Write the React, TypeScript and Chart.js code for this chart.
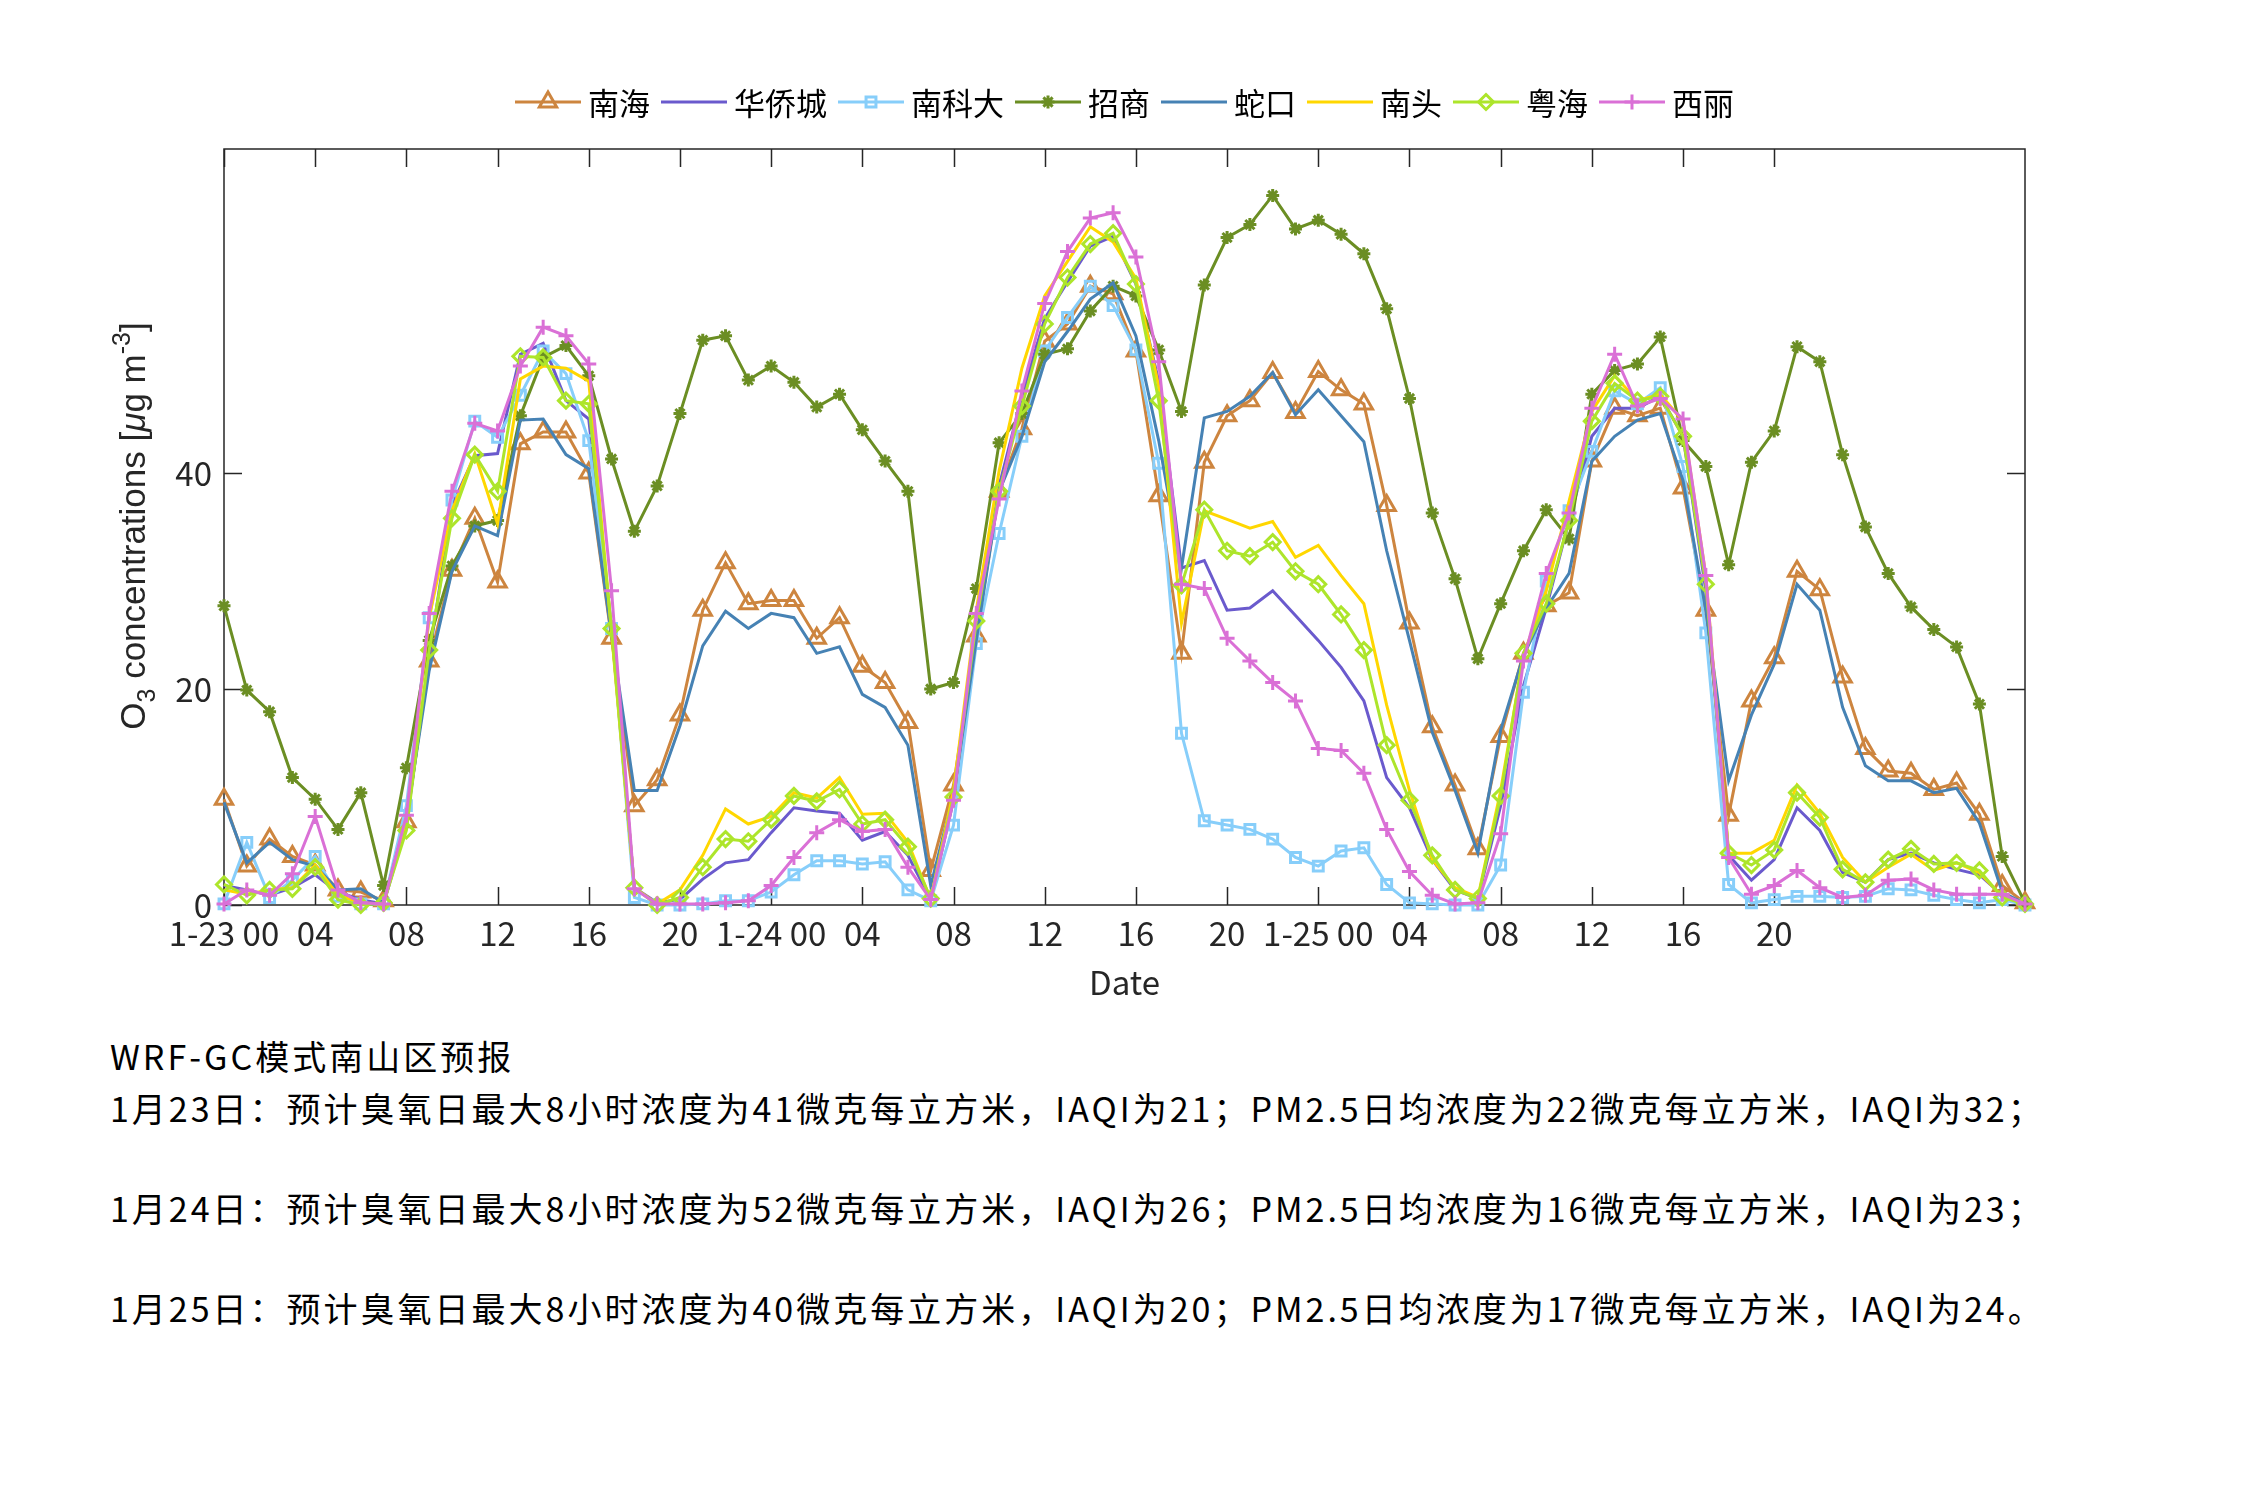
import React, { useEffect, useRef } from 'react';
import { Chart, registerables } from 'chart.js';

Chart.register(...registerables);

// ---------- data ----------
const HOURS: number[] = Array.from({ length: 80 }, (_, i) => i);

const TICK_HOURS = [0, 4, 8, 12, 16, 20, 24, 28, 32, 36, 40, 44, 48, 52, 56, 60, 64, 68];
const TICK_LABELS = ['1-23 00', '04', '08', '12', '16', '20', '1-24 00', '04', '08', '12', '16', '20', '1-25 00', '04', '08', '12', '16', '20'];
const Y_TICKS = [0, 20, 40];

const NANHAI = [
  9.8, 3.6, 6.1, 4.5, 3.7, 1.4, 1.2, 0.4, 7.7, 22.6, 31.0, 35.8, 29.9, 42.7, 43.8, 43.8, 40.0, 24.7, 9.2, 11.6,
  17.6, 27.3, 31.7, 27.9, 28.2, 28.2, 24.7, 26.6, 22.1, 20.6, 16.9, 3.2, 11.1, 24.9, 38.3, 44.1, 52.2, 53.8, 57.3,
  56.6, 51.3, 37.9, 23.3, 41.0, 45.3, 46.7, 49.3, 45.6, 49.4, 47.7, 46.4, 37.0, 26.1, 16.5, 11.1, 5.2, 15.6, 23.3,
  27.7, 28.9, 41.1, 46.0, 45.3, 46.0, 38.6, 27.3, 8.3, 18.9, 22.9, 30.9, 29.2, 21.1, 14.5, 12.4, 12.2, 10.7, 11.3, 8.4, 1.8, 0.2,
];
const HUAQIAOCHENG = [
  1.8, 1.4, 0.9, 1.6, 2.8, 1.2, 0.5, 0.1, 7.4, 23.0, 37.0, 41.6, 41.8, 51.0, 52.0, 46.7, 45.0, 25.6, 1.6, 0.2,
  0.5, 2.4, 3.9, 4.2, 6.7, 9.0, 8.7, 8.5, 6.0, 6.8, 4.6, 0.5, 9.7, 25.4, 38.8, 47.1, 54.3, 57.7, 61.0,
  61.9, 57.5, 48.5, 31.2, 31.9, 27.3, 27.5, 29.1, 26.8, 24.5, 22.0, 18.9, 11.8, 9.0, 4.2, 1.4, 0.6, 9.2, 20.3,
  27.5, 35.6, 43.4, 46.0, 46.0, 47.1, 43.4, 29.1, 4.6, 2.3, 4.2, 9.0, 6.9, 3.0, 2.1, 4.2, 4.8, 3.9, 3.3, 2.8, 0.9, 0.1,
];
const NANKEDA = [
  0.1, 5.8, 0.7, 2.3, 4.5, 0.8, 0.1, 0.1, 9.2, 26.6, 37.5, 44.8, 43.3, 47.2, 51.3, 49.2, 43.0, 25.6, 0.7, 0.0,
  0.0, 0.1, 0.4, 0.4, 1.2, 2.8, 4.1, 4.1, 3.8, 4.0, 1.4, 0.4, 7.4, 24.2, 34.4, 43.4, 51.3, 54.4, 57.3,
  55.5, 51.4, 40.9, 15.9, 7.8, 7.4, 7.0, 6.1, 4.4, 3.6, 5.0, 5.3, 1.9, 0.2, 0.1, 0.0, 0.0, 3.7, 19.7,
  30.0, 36.5, 42.0, 47.6, 46.4, 47.9, 40.6, 25.2, 1.9, 0.2, 0.5, 0.8, 0.8, 0.7, 0.8, 1.5, 1.4, 0.9, 0.5, 0.2, 0.5, 0.0,
];
const ZHAOSHANG = [
  27.7, 19.9, 17.9, 11.8, 9.8, 7.0, 10.4, 1.8, 12.7, 24.5, 31.4, 35.1, 35.6, 45.3, 50.7, 51.8, 49.0, 41.3, 34.6, 38.8,
  45.5, 52.3, 52.7, 48.6, 49.9, 48.4, 46.1, 47.3, 44.0, 41.1, 38.3, 20.0, 20.6, 29.3, 42.8, 45.5, 51.0, 51.5, 55.0,
  57.3, 56.4, 51.4, 45.7, 57.4, 61.8, 63.0, 65.7, 62.6, 63.4, 62.1, 60.3, 55.2, 46.9, 36.3, 30.2, 22.8, 27.9, 32.8,
  36.6, 33.9, 47.3, 49.5, 50.1, 52.6, 43.0, 40.6, 31.5, 41.0, 43.9, 51.7, 50.3, 41.7, 35.0, 30.7, 27.6, 25.5, 23.9, 18.6, 4.5, 0.2,
];
const SHEKOU = [
  9.5, 3.9, 5.8, 4.2, 3.6, 1.4, 1.5, 0.2, 8.0, 21.7, 30.9, 35.1, 34.2, 44.9, 45.0, 41.7, 40.4, 24.9, 10.6, 10.6,
  16.6, 24.0, 27.2, 25.6, 27.0, 26.6, 23.3, 23.9, 19.5, 18.3, 14.8, 1.8, 10.2, 24.5, 38.3, 43.4, 50.3, 53.1, 56.1,
  57.6, 52.7, 43.0, 31.2, 45.1, 45.7, 47.1, 49.3, 45.4, 47.7, 45.3, 42.9, 32.8, 24.5, 16.0, 10.6, 4.8, 16.2, 23.1,
  27.5, 30.7, 41.1, 43.4, 44.9, 45.5, 39.3, 27.3, 11.5, 17.6, 22.3, 29.7, 27.3, 18.3, 12.9, 11.5, 11.5, 10.4, 10.8, 7.6, 1.2, 0.1,
];
const NANTOU = [
  1.4, 1.0, 1.4, 1.6, 3.7, 0.9, 0.2, 0.1, 7.9, 26.6, 36.5, 41.8, 35.3, 48.7, 49.9, 49.7, 48.5, 25.2, 1.6, 0.1,
  1.4, 4.6, 8.9, 7.5, 8.2, 10.4, 9.9, 11.8, 8.4, 8.5, 5.8, 0.5, 10.6, 27.3, 40.2, 49.7, 56.4, 59.6, 62.8,
  61.4, 58.0, 48.0, 26.1, 36.5, 35.7, 34.9, 35.5, 32.2, 33.3, 30.5, 27.9, 18.5, 10.6, 4.2, 1.6, 0.7, 10.6, 23.1,
  29.1, 37.4, 45.7, 49.0, 46.7, 47.3, 44.8, 30.5, 4.8, 4.8, 6.0, 11.1, 8.5, 4.4, 2.1, 3.5, 4.7, 3.2, 3.9, 3.0, 0.8, 0.1,
];
const YUEHAI = [
  1.9, 0.9, 1.4, 1.5, 3.5, 0.5, 0.0, 0.2, 6.9, 23.6, 35.8, 41.7, 38.3, 50.8, 50.7, 46.7, 46.4, 25.6, 1.6, 0.0,
  0.7, 3.5, 6.1, 5.9, 7.9, 10.1, 9.6, 10.7, 7.5, 7.9, 5.4, 0.6, 10.0, 26.3, 38.3, 46.2, 53.8, 58.1, 61.2,
  62.2, 57.5, 46.7, 29.6, 36.6, 32.8, 32.3, 33.6, 30.9, 29.7, 26.9, 23.6, 14.8, 9.7, 4.6, 1.4, 0.6, 10.1, 23.3,
  27.9, 35.6, 44.8, 48.3, 46.7, 47.1, 43.4, 29.7, 4.8, 3.7, 5.1, 10.4, 8.1, 3.3, 2.1, 4.2, 5.2, 3.8, 3.9, 3.2, 0.7, 0.1,
];
const XILI = [
  0.1, 1.4, 0.9, 2.9, 8.2, 1.4, 0.2, 0.1, 8.3, 27.0, 38.3, 44.6, 43.9, 49.9, 53.5, 52.7, 50.1, 29.1, 1.5, 0.1,
  0.1, 0.1, 0.2, 0.4, 1.8, 4.4, 6.7, 7.9, 6.8, 7.0, 3.5, 0.5, 9.7, 27.0, 37.6, 47.6, 55.7, 60.5, 63.6,
  64.1, 60.0, 50.3, 29.7, 29.3, 24.7, 22.6, 20.6, 18.9, 14.5, 14.3, 12.2, 7.0, 3.1, 0.9, 0.1, 0.2, 6.6, 22.6,
  30.7, 36.3, 46.0, 51.0, 46.2, 46.9, 45.0, 30.5, 4.4, 1.0, 1.8, 3.2, 1.6, 0.7, 0.9, 2.3, 2.4, 1.4, 1.0, 1.0, 1.0, 0.1,
];

const SERIES_NAMES = ['南海', '华侨城', '南科大', '招商', '蛇口', '南头', '粤海', '西丽'];
const SERIES_DATA = [NANHAI, HUAQIAOCHENG, NANKEDA, ZHAOSHANG, SHEKOU, NANTOU, YUEHAI, XILI];
const SERIES_COLORS = ['#CD853F', '#6A5ACD', '#87CEFA', '#6B8E23', '#4682B4', '#FFD700', '#ADE52B', '#DA70D6'];
const SERIES_MARKERS: (string | null)[] = ['triangle', null, 'rect', 'star', null, null, 'rectRot', 'cross'];
const MARKER_RADIUS: number[] = [10, 0, 7, 6.5, 0, 0, 7.5, 7.5];

const TEXT_LINES = [
  'WRF-GC模式南山区预报',
  '1月23日：预计臭氧日最大8小时浓度为41微克每立方米，IAQI为21；PM2.5日均浓度为22微克每立方米，IAQI为32；',
  '1月24日：预计臭氧日最大8小时浓度为52微克每立方米，IAQI为26；PM2.5日均浓度为16微克每立方米，IAQI为23；',
  '1月25日：预计臭氧日最大8小时浓度为40微克每立方米，IAQI为20；PM2.5日均浓度为17微克每立方米，IAQI为24。',
];
const TEXT_CENTERS = [1056, 1108, 1208, 1308];

// ---------- styling ----------
const CJK = "'Noto Sans CJK SC', 'Noto Sans', sans-serif";
const AXIS_COLOR = '#262626';
const CANVAS_W = 2234;
const CANVAS_H = 1000;
const AREA = { left: 216, top: 141, right: 2017, bottom: 897 };

function drawMarker(ctx: CanvasRenderingContext2D, style: string, x: number, y: number, r: number) {
  ctx.beginPath();
  if (style === 'triangle') {
    for (let k = 0; k < 3; k++) {
      const a = (k * 2 * Math.PI) / 3;
      const px = x + Math.sin(a) * r;
      const py = y - Math.cos(a) * r;
      if (k === 0) ctx.moveTo(px, py); else ctx.lineTo(px, py);
    }
    ctx.closePath();
  } else if (style === 'rect') {
    const s = r * Math.SQRT1_2;
    ctx.rect(x - s, y - s, 2 * s, 2 * s);
  } else if (style === 'rectRot') {
    ctx.moveTo(x, y - r); ctx.lineTo(x + r, y); ctx.lineTo(x, y + r); ctx.lineTo(x - r, y); ctx.closePath();
  } else if (style === 'cross') {
    ctx.moveTo(x - r, y); ctx.lineTo(x + r, y); ctx.moveTo(x, y - r); ctx.lineTo(x, y + r);
  } else if (style === 'star') {
    ctx.moveTo(x - r, y); ctx.lineTo(x + r, y); ctx.moveTo(x, y - r); ctx.lineTo(x, y + r);
    const d = r * Math.SQRT1_2;
    ctx.moveTo(x - d, y - d); ctx.lineTo(x + d, y + d); ctx.moveTo(x - d, y + d); ctx.lineTo(x + d, y - d);
  }
  ctx.stroke();
}

const framePlugin = {
  id: 'matlabFrame',
  beforeDatasetsDraw(chart: any) {
    const { ctx, chartArea, scales } = chart;
    const { left, top, right, bottom } = chartArea;
    ctx.save();
    ctx.strokeStyle = AXIS_COLOR;
    ctx.lineWidth = 1.5;
    ctx.strokeRect(left, top, right - left, bottom - top);
    const len = 18;
    ctx.beginPath();
    TICK_HOURS.forEach((h) => {
      const px = Math.round(scales.x.getPixelForValue(h)) + 0.5;
      ctx.moveTo(px, bottom); ctx.lineTo(px, bottom - len);
      ctx.moveTo(px, top); ctx.lineTo(px, top + len);
    });
    Y_TICKS.forEach((v) => {
      const py = Math.round(scales.y.getPixelForValue(v)) + 0.5;
      ctx.moveTo(left, py); ctx.lineTo(left + len, py);
      ctx.moveTo(right, py); ctx.lineTo(right - len, py);
    });
    ctx.stroke();
    ctx.restore();
  },
};

const legendPlugin = {
  id: 'matlabLegend',
  afterDraw(chart: any) {
    const { ctx, chartArea } = chart;
    ctx.save();
    ctx.font = `31px ${CJK}`;
    ctx.textBaseline = 'middle';
    const lineLen = 66, gap = 7, itemGap = 11;
    const widths = SERIES_NAMES.map((n) => ctx.measureText(n).width);
    const total = widths.reduce((a, w) => a + lineLen + gap + w, 0) + itemGap * (SERIES_NAMES.length - 1);
    let x = (chartArea.left + chartArea.right) / 2 - total / 2;
    const y = 94;
    SERIES_NAMES.forEach((name, i) => {
      ctx.strokeStyle = SERIES_COLORS[i];
      ctx.lineWidth = 3;
      ctx.beginPath(); ctx.moveTo(x, y); ctx.lineTo(x + lineLen, y); ctx.stroke();
      const m = SERIES_MARKERS[i];
      if (m) drawMarker(ctx, m, x + lineLen / 2, y, MARKER_RADIUS[i]);
      ctx.fillStyle = '#000';
      ctx.fillText(name, x + lineLen + gap, y + 1);
      x += lineLen + gap + widths[i] + itemGap;
    });
    ctx.restore();
  },
};

const yTitlePlugin = {
  id: 'yTitle',
  afterDraw(chart: any) {
    const { ctx } = chart;
    const fs = 35;
    const base = "'Liberation Sans', Arial, sans-serif";
    const parts: [string, string, number][] = [
      ['O', `${fs}px ${base}`, 0],
      ['3', `${Math.round(fs * 0.7)}px ${base}`, fs * 0.3],
      [' concentrations [', `${fs}px ${base}`, 0],
      ['μ', `italic ${fs}px ${base}`, 0],
      ['g m', `${fs}px ${base}`, 0],
      ['-3', `${Math.round(fs * 0.7)}px ${base}`, -fs * 0.42],
      [']', `${fs}px ${base}`, 0],
    ];
    ctx.save();
    ctx.translate(124, 518);
    ctx.rotate(-Math.PI / 2);
    ctx.fillStyle = AXIS_COLOR;
    ctx.textBaseline = 'alphabetic';
    let total = 0;
    const ws = parts.map(([t, f]) => { ctx.font = f; const w = ctx.measureText(t).width; total += w; return w; });
    let x = -total / 2;
    parts.forEach(([t, f, dy], i) => {
      ctx.font = f;
      ctx.fillText(t, x, fs * 0.36 + dy);
      x += ws[i];
    });
    ctx.restore();
  },
};

export default function App() {
  const ref = useRef<HTMLCanvasElement>(null);
  useEffect(() => {
    if (!ref.current) return;
    const datasets = SERIES_NAMES.map((name, i) => ({
      label: name,
      data: HOURS.map((h, j) => ({ x: h, y: SERIES_DATA[i][j] })),
      borderColor: SERIES_COLORS[i],
      backgroundColor: 'rgba(0,0,0,0)',
      borderWidth: 3,
      pointStyle: (SERIES_MARKERS[i] || 'circle') as any,
      pointRadius: SERIES_MARKERS[i] ? MARKER_RADIUS[i] : 0,
      pointBorderColor: SERIES_COLORS[i],
      pointBackgroundColor: 'rgba(0,0,0,0)',
      pointBorderWidth: 3,
      tension: 0,
      clip: false as any,
      order: SERIES_NAMES.length - i,
    }));
    const tickFont = { family: CJK, size: 33 };
    const chart = new Chart(ref.current, {
      type: 'line',
      data: { datasets },
      options: {
        responsive: false,
        animation: false,
        devicePixelRatio: 1,
        events: [],
        layout: { padding: { left: 0, top: AREA.top, right: CANVAS_W - AREA.right, bottom: 0 } },
        plugins: { legend: { display: false }, tooltip: { enabled: false } },
        scales: {
          x: {
            type: 'linear',
            min: 0,
            max: 79,
            afterBuildTicks: (sc: any) => { sc.ticks = TICK_HOURS.map((v) => ({ value: v })); },
            afterFit: (sc: any) => { sc.height = CANVAS_H - AREA.bottom; },
            ticks: {
              autoSkip: false,
              maxRotation: 0,
              minRotation: 0,
              padding: 9,
              color: AXIS_COLOR,
              font: tickFont,
              callback: (v: any) => {
                const k = TICK_HOURS.indexOf(Number(v));
                return k >= 0 ? TICK_LABELS[k] : '';
              },
            },
            grid: { display: false, drawTicks: false },
            border: { display: false },
            title: { display: true, text: 'Date', color: AXIS_COLOR, font: { family: CJK, size: 33 }, padding: { top: 0, bottom: 6 } },
          },
          y: {
            min: 0,
            max: 70,
            afterBuildTicks: (sc: any) => { sc.ticks = Y_TICKS.map((v) => ({ value: v })); },
            afterFit: (sc: any) => { sc.width = AREA.left; },
            ticks: { padding: 12, color: AXIS_COLOR, font: tickFont },
            grid: { display: false, drawTicks: false },
            border: { display: false },
          },
        },
      },
      plugins: [framePlugin, legendPlugin, yTitlePlugin],
    } as any);
    return () => chart.destroy();
  }, []);

  return (
    <div style={{ position: 'relative', width: CANVAS_W, height: 1484 }}>
      <canvas ref={ref} width={CANVAS_W} height={CANVAS_H} style={{ display: 'block', width: CANVAS_W, height: CANVAS_H }} />
      {TEXT_LINES.map((t, i) => (
        <div
          key={i}
          style={{
            position: 'absolute',
            left: 102,
            top: TEXT_CENTERS[i] - 8 - 21,
            height: 42,
            lineHeight: '42px',
            fontSize: 34,
            letterSpacing: '3px',
            fontFamily: CJK,
            color: '#000',
            whiteSpace: 'nowrap',
          }}
        >
          {t}
        </div>
      ))}
    </div>
  );
}
